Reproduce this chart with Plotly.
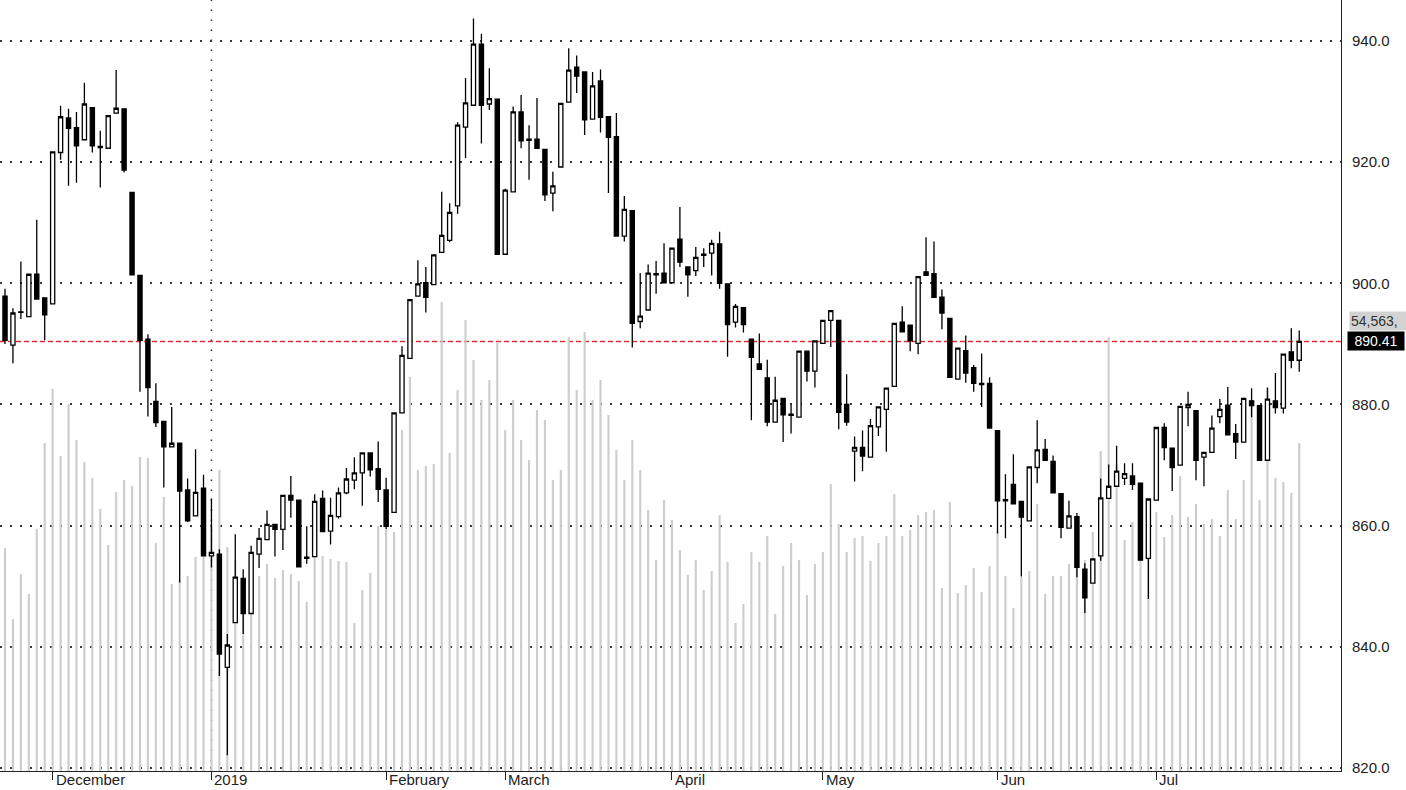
import plotly.graph_objects as go

# ---------------- data ----------------
opens = [
    897.9, 889.8, 895.3, 894.5, 901.5, 897.6, 896.6, 921.6, 927.3, 925.7,
    923.7, 929.0, 922.6, 922.3, 928.1, 928.8, 915.0, 901.3, 890.8, 880.5,
    877.2, 873.0, 873.6, 865.9, 861.6, 866.2, 855.0, 855.3, 836.6, 844.0,
    851.3, 845.5, 855.3, 857.7, 860.2, 859.4, 865.0, 864.2, 854.8, 854.9,
    864.5, 859.1, 861.5, 865.4, 867.5, 868.7, 872.0, 869.4, 865.9, 862.2,
    878.6, 887.6, 897.9, 900.1, 899.8, 905.1, 907.1, 912.8, 925.8, 929.4,
    939.5, 929.6, 930.4, 904.8, 915.1, 928.3, 923.8, 923.8, 922.1, 914.9,
    919.2, 929.9, 935.7, 934.9, 927.1, 933.4, 927.5, 924.2, 907.8, 912.0,
    893.7, 895.6, 901.6, 901.7, 900.1, 907.3, 902.7, 902.1, 904.8, 905.0,
    906.5, 899.9, 893.6, 896.0, 890.8, 886.7, 884.4, 877.1, 881.0, 878.4,
    877.9, 888.8, 885.5, 890.1, 893.9, 893.9, 880.0, 872.3, 872.9, 871.3,
    876.3, 879.2, 883.0, 893.6, 893.1, 890.1, 901.9, 901.6, 897.7, 894.2,
    884.2, 888.9, 886.1, 883.5, 883.5, 875.7, 864.3, 866.8, 864.0, 860.8,
    869.6, 872.6, 870.6, 865.3, 859.6, 861.5, 852.8, 850.5, 855.0, 864.5,
    866.5, 867.8, 868.2, 867.0, 854.6, 864.2, 876.2, 872.8, 870.0, 879.5,
    879.0, 871.3, 872.1, 878.0, 879.9, 875.2, 873.8, 880.6, 879.8, 870.8,
    880.6, 879.4, 888.7, 887.3,
]
highs = [
    899.1, 895.9, 903.6, 901.6, 910.5, 897.7, 921.8, 929.3, 928.8, 928.3,
    933.1, 929.1, 925.2, 927.8, 935.2, 928.9, 915.1, 901.4, 891.6, 883.5,
    877.3, 879.6, 873.7, 867.8, 872.6, 868.4, 864.5, 856.1, 842.1, 858.6,
    852.8, 856.7, 859.6, 862.5, 860.3, 865.1, 868.2, 864.3, 859.9, 865.2,
    865.8, 864.6, 866.3, 869.5, 871.3, 872.1, 872.1, 873.9, 867.9, 878.7,
    889.6, 897.4, 903.8, 902.7, 904.8, 915.1, 913.2, 926.6, 933.9, 943.7,
    941.2, 935.5, 930.5, 915.6, 929.2, 931.1, 926.1, 930.6, 922.2, 918.4,
    929.8, 938.8, 937.6, 935.0, 934.9, 935.3, 927.6, 928.1, 914.4, 912.1,
    901.7, 903.1, 903.7, 906.6, 905.9, 912.6, 902.8, 906.0, 905.8, 907.2,
    908.5, 900.0, 896.6, 896.1, 890.9, 891.7, 887.4, 884.6, 881.1, 880.0,
    888.9, 888.9, 890.6, 894.0, 895.6, 894.0, 885.0, 874.7, 875.7, 877.6,
    879.7, 882.8, 893.5, 896.2, 893.2, 901.2, 907.6, 906.9, 899.0, 894.3,
    889.4, 891.4, 886.5, 888.4, 884.5, 875.8, 868.5, 871.8, 864.1, 869.8,
    877.4, 874.3, 871.6, 865.4, 864.1, 862.1, 853.8, 854.6, 867.8, 870.1,
    873.2, 870.3, 870.3, 867.1, 864.5, 876.3, 876.9, 872.9, 879.8, 882.1,
    879.1, 872.2, 878.2, 880.9, 882.9, 876.8, 881.1, 882.7, 879.9, 882.8,
    885.2, 888.4, 892.6, 892.2,
]
lows = [
    890.0, 886.8, 894.1, 894.4, 897.3, 890.6, 896.5, 920.4, 916.1, 916.6,
    923.6, 921.6, 915.8, 922.2, 928.0, 918.3, 901.3, 882.1, 878.0, 876.3,
    866.3, 872.9, 850.6, 860.6, 861.5, 854.9, 853.1, 835.2, 822.1, 843.9,
    842.1, 845.4, 853.0, 857.6, 854.9, 856.0, 861.3, 853.1, 853.7, 854.8,
    858.9, 856.9, 861.2, 865.2, 866.0, 863.3, 868.1, 863.9, 859.4, 862.1,
    878.5, 887.5, 897.8, 895.2, 899.7, 905.0, 906.8, 911.5, 920.7, 929.3,
    923.1, 928.6, 904.7, 904.7, 915.0, 922.3, 917.1, 922.2, 913.6, 911.9,
    919.1, 929.8, 931.4, 924.5, 927.0, 924.9, 914.9, 907.7, 906.9, 889.4,
    892.6, 895.5, 898.3, 900.0, 900.0, 902.7, 897.8, 901.2, 902.7, 901.3,
    899.1, 887.9, 892.7, 891.9, 877.4, 885.7, 876.4, 877.0, 873.8, 875.2,
    877.8, 883.8, 882.8, 890.0, 889.5, 875.9, 876.5, 867.3, 869.0, 871.2,
    874.8, 872.2, 882.9, 891.9, 888.8, 888.3, 901.2, 897.6, 892.4, 884.4,
    884.1, 883.6, 882.1, 879.6, 876.0, 858.7, 857.9, 863.5, 851.6, 860.7,
    867.0, 870.7, 865.3, 857.9, 859.5, 851.5, 845.6, 850.4, 854.2, 864.4,
    866.4, 866.7, 865.9, 854.2, 847.9, 864.1, 870.8, 865.7, 869.9, 876.4,
    867.5, 866.5, 872.0, 876.9, 874.9, 871.0, 873.7, 877.9, 870.7, 870.7,
    878.5, 878.5, 886.0, 885.4,
]
closes = [
    890.6, 895.1, 895.2, 901.5, 897.4, 894.8, 921.7, 927.5, 925.6, 922.7,
    929.6, 922.7, 922.4, 927.7, 928.9, 918.7, 901.4, 890.6, 882.8, 877.0,
    873.0, 873.6, 865.7, 860.8, 865.5, 855.0, 855.6, 838.8, 840.3, 851.5,
    845.5, 855.6, 857.9, 860.2, 859.4, 865.0, 864.2, 853.2, 854.6, 864.0,
    859.0, 861.7, 865.4, 867.7, 868.7, 872.0, 869.2, 866.0, 859.9, 878.6,
    888.1, 897.3, 899.9, 897.7, 904.7, 907.9, 911.7, 926.1, 929.8, 939.5,
    929.4, 930.5, 904.8, 915.4, 928.3, 923.5, 923.6, 922.3, 914.6, 916.1,
    929.7, 935.2, 934.2, 927.0, 932.6, 927.4, 924.1, 907.8, 912.2, 893.4,
    894.6, 901.7, 901.4, 900.1, 905.8, 903.5, 901.4, 904.3, 904.6, 906.6,
    900.0, 893.2, 896.2, 893.2, 887.8, 885.8, 877.1, 880.7, 878.3, 878.2,
    888.8, 885.5, 890.5, 893.9, 895.5, 878.7, 877.1, 872.9, 871.5, 876.5,
    879.6, 882.7, 893.4, 892.0, 890.5, 901.1, 901.3, 897.7, 895.1, 884.5,
    889.3, 885.2, 883.5, 883.3, 876.1, 864.1, 864.1, 863.6, 861.4, 869.7,
    872.5, 870.8, 865.4, 859.7, 861.6, 853.1, 848.1, 854.5, 864.6, 866.5,
    869.0, 868.6, 866.8, 854.3, 864.4, 876.2, 872.9, 869.6, 879.7, 880.0,
    870.8, 872.1, 876.1, 879.2, 875.0, 873.8, 881.0, 879.8, 870.8, 880.9,
    879.5, 888.3, 887.3, 890.41,
]
volumes = [
    37090, 25280, 32770, 29440, 40250, 54560, 63540, 52400, 61050, 55060,
    51400, 48740, 43580, 37590, 46410, 48410, 47410, 52230, 52060, 37930,
    45580, 31110, 31770, 32440, 35600, 41750, 40920, 50070, 37260, 35100,
    28440, 30110, 32440, 34430, 32100, 33430, 32770, 31610, 28110, 35760,
    35760, 35260, 34930, 34770, 24620, 30110, 32940, 40750, 40090, 39760,
    56720, 65540, 50070, 50730, 51070, 78010, 52900, 63380, 75020, 68370,
    61710, 65040, 71190, 56720, 61710, 55060, 51730, 60050, 58390, 48410,
    50070, 72190, 63380, 73020, 61710, 65040, 59220, 53400, 48410, 55060,
    50070, 43420, 35100, 45080, 41750, 36760, 32600, 35100, 30110, 33270,
    42580, 34770, 24620, 27780, 36430, 34770, 39090, 26120, 34100, 37930,
    35100, 29280, 34430, 36430, 47740, 41090, 36430, 38760, 39090, 34930,
    37930, 39090, 46080, 39090, 40090, 42580, 43080, 43420, 30440, 44750,
    29610, 30940, 33770, 29780, 34100, 40090, 32440, 27110, 32270, 33270,
    44410, 29440, 32440, 32440, 34430, 41920, 35100, 39760, 53230, 72190,
    51070, 38430, 41420, 41750, 40090, 43080, 38920, 42580, 49070, 42250,
    44410, 41090, 41920, 39090, 46740, 41920, 48410, 61710, 45080, 63710,
    48740, 48070, 46240, 54563,
]
month_labels = ["December", "2019", "February", "March", "April", "May", "Jun", "Jul"]
month_index = [6, 26, 48, 63, 84, 103, 125, 145]
year_break_index = 26
price_ticks = [820, 840, 860, 880, 900, 920, 940]
last_close = 890.41
last_volume_label = "54,563,"

# ---------------- figure ----------------
x = list(range(len(closes)))
FONT = "Arial, 'Liberation Sans', sans-serif"

fig = go.Figure()

# volume (base axis, drawn underneath)
fig.add_trace(go.Bar(
    x=x, y=volumes, width=0.27, yaxis="y",
    marker=dict(color="#cdcdcd", line=dict(width=0)),
    hoverinfo="skip", showlegend=False,
))

# price candles (overlay axis, drawn on top)
fig.add_trace(go.Candlestick(
    x=x, open=opens, high=highs, low=lows, close=closes, yaxis="y2",
    increasing=dict(fillcolor="white", line=dict(color="black", width=1.3)),
    decreasing=dict(fillcolor="black", line=dict(color="black", width=1.3)),
    whiskerwidth=0, showlegend=False,
))

# last price reference line
fig.add_shape(type="line", xref="paper", x0=0, x1=1, yref="y2",
              y0=last_close, y1=last_close, layer="below",
              line=dict(color="#e0303a", width=1.6, dash="5px,3px"))
# year separator
fig.add_shape(type="line", xref="x", x0=year_break_index, x1=year_break_index,
              yref="paper", y0=0, y1=1, layer="below",
              line=dict(color="#333333", width=1.5, dash="1.5px,8.5px"))

# month labels to the right of the tick marks
for idx, lab in zip(month_index, month_labels):
    fig.add_annotation(x=idx, xref="x", y=0, yref="paper", yanchor="top",
                       xanchor="left", xshift=2, yshift=1, borderpad=0,
                       text=lab, showarrow=False,
                       font=dict(family=FONT, size=15, color="#222222"))

# right-hand value labels
fig.add_annotation(xref="paper", x=1, xanchor="left", xshift=6, yref="y2",
                   y=last_close, text=f"{last_close:.2f}", showarrow=False,
                   bgcolor="black", font=dict(family=FONT, size=14, color="white"),
                   borderpad=1, width=54, align="center")
fig.add_annotation(xref="paper", x=1, xanchor="left", xshift=8, yref="y2",
                   y=last_close, yshift=20, text=last_volume_label, showarrow=False,
                   bgcolor="#d2d2d2", font=dict(family=FONT, size=14, color="#333333"),
                   borderpad=1, width=54, align="left")

fig.update_layout(
    width=1406, height=790,
    margin=dict(l=0, r=65, t=0, b=19),
    paper_bgcolor="white", plot_bgcolor="white",
    showlegend=False, boxgap=0.25,
    font=dict(family=FONT, size=14, color="#222222"),
    xaxis=dict(range=[-0.63, 168.26], rangeslider=dict(visible=False),
               showgrid=False, zeroline=False, showline=True,
               linecolor="#222222", linewidth=1,
               ticks="outside", ticklen=8, tickcolor="#222222", tickwidth=1,
               tickvals=month_index, showticklabels=False, fixedrange=True),
    yaxis=dict(range=[0, 128250], visible=False, showgrid=False,
               zeroline=False, fixedrange=True),
    yaxis2=dict(overlaying="y", side="right", range=[819.5, 946.77],
                tickvals=price_ticks, tickformat=".1f",
                showgrid=True, gridcolor="#3a3a3a", gridwidth=1.5,
                griddash="1.5px,8.5px", zeroline=False,
                showline=True, linecolor="#222222", linewidth=1,
                ticks="", ticklabelstandoff=7,
                tickfont=dict(family=FONT, size=15, color="#222222"),
                fixedrange=True),
)

fig.write_html(
    "out.html",
    config={"displayModeBar": False},
    post_script="document.body.style.margin='0';document.body.style.overflow='hidden';",
)
